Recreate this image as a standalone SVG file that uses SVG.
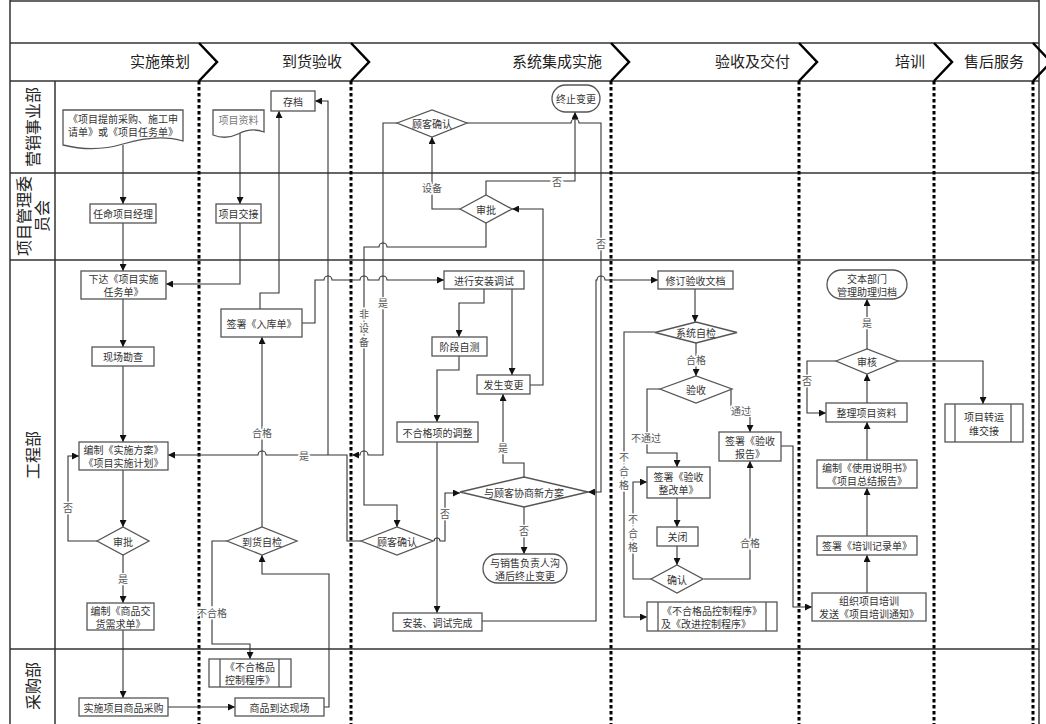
<svg xmlns="http://www.w3.org/2000/svg" width="1046" height="724" viewBox="0 0 1046 724">
<style>
.frame{fill:none;stroke:#333;stroke-width:1.5}
.sep{fill:none;stroke:#000;stroke-width:3;stroke-dasharray:3.5 2.5}
.chev{fill:none;stroke:#000;stroke-width:2.5}
.hd{font-family:"Noto Sans CJK SC",sans-serif;font-size:15px;fill:#222;text-anchor:end}
.ln{font-family:"Noto Sans CJK SC",sans-serif;font-size:16px;fill:#222;text-anchor:middle;dominant-baseline:central}
.box{fill:#fff;stroke:#555;stroke-width:1.3}
.t{font-family:"Noto Sans CJK SC",sans-serif;font-size:10px;fill:#333;text-anchor:middle;dominant-baseline:central}
.g{fill:#777}
.e{fill:none;stroke:#333;stroke-width:1.1}
.lbl{font-family:"Noto Sans CJK SC",sans-serif;font-size:10px;fill:#555;text-anchor:middle;dominant-baseline:central;paint-order:stroke;stroke:#fff;stroke-width:3px}
</style>
<defs>
<marker id="a" viewBox="0 0 10 10" refX="10" refY="5" markerWidth="7" markerHeight="7" orient="auto" markerUnits="userSpaceOnUse"><path d="M0,0 L10,5 L0,10 Z" fill="#111"/></marker>
</defs>
<rect width="1046" height="724" fill="#fff"/>
<g id="frame">
<line class="frame" x1="10" y1="1" x2="1039" y2="1"/>
<line class="frame" x1="10" y1="0" x2="10" y2="724"/>
<line class="frame" x1="1039" y1="0" x2="1039" y2="724"/>
<line class="frame" x1="10" y1="43" x2="1039" y2="43"/>
<line class="frame" x1="10" y1="81" x2="1039" y2="81"/>
<line class="frame" x1="10" y1="173" x2="1039" y2="173"/>
<line class="frame" x1="10" y1="260" x2="1039" y2="260"/>
<line class="frame" x1="10" y1="649" x2="1039" y2="649"/>
<line class="frame" x1="55" y1="81" x2="55" y2="724"/>
</g>
<g id="phases">
<path class="chev" d="M199,43 L217,62 L199,81"/>
<path class="chev" d="M351,43 L369,62 L351,81"/>
<path class="chev" d="M611,43 L629,62 L611,81"/>
<path class="chev" d="M799,43 L817,62 L799,81"/>
<path class="chev" d="M934,43 L952,62 L934,81"/>
<path class="chev" d="M1033,43 L1051,62 L1033,81"/>
<line class="sep" x1="199" y1="81" x2="199" y2="724"/>
<line class="sep" x1="351" y1="81" x2="351" y2="724"/>
<line class="sep" x1="611" y1="81" x2="611" y2="724"/>
<line class="sep" x1="799" y1="81" x2="799" y2="724"/>
<line class="sep" x1="934" y1="81" x2="934" y2="724"/>
<line class="sep" x1="1033" y1="81" x2="1033" y2="724"/>
<text class="hd" x="190" y="67">实施策划</text>
<text class="hd" x="342" y="67">到货验收</text>
<text class="hd" x="602" y="67">系统集成实施</text>
<text class="hd" x="790" y="67">验收及交付</text>
<text class="hd" x="925" y="67">培训</text>
<text class="hd" x="1024" y="67">售后服务</text>
</g>
<g id="lanes">
<text class="ln" transform="translate(32,127) rotate(-90)">营销事业部</text>
<text class="ln" transform="translate(32,216) rotate(-90)"><tspan x="0" y="-9">项目管理委</tspan><tspan x="0" y="9">员会</tspan></text>
<text class="ln" transform="translate(32,455) rotate(-90)">工程部</text>
<text class="ln" transform="translate(32,686) rotate(-90)">采购部</text>
</g>
<g id="connectors">
<path class="e" marker-end="url(#a)" d="M123,145 V204"/>
<path class="e" marker-end="url(#a)" d="M123,223 V271"/>
<path class="e" marker-end="url(#a)" d="M123,299 V347"/>
<path class="e" marker-end="url(#a)" d="M123,366 V442"/>
<path class="e" marker-end="url(#a)" d="M123,470 V527"/>
<path class="e" marker-end="url(#a)" d="M97,541 H68 V456 H79"/>
<path class="e" marker-end="url(#a)" d="M123,555 V603"/>
<path class="e" marker-end="url(#a)" d="M123,630 V698"/>
<path class="e" marker-end="url(#a)" d="M168,707 H235"/>
<path class="e" marker-end="url(#a)" d="M324,707 H329 V574 H262 V555"/>
<path class="e" marker-end="url(#a)" d="M227,541 H212 V644 H250 V659"/>
<path class="e" marker-end="url(#a)" d="M262,527 V337"/>
<path class="e" marker-end="url(#a)" d="M240,133 V204"/>
<path class="e" marker-end="url(#a)" d="M240,223 V284 H166"/>
<path class="e" marker-end="url(#a)" d="M260,309 V293 H279 V111"/>
<path class="e" marker-end="url(#a)" d="M302,323 H315 V280 H324 a4,4 0 0 1 8,0 H360 a4,4 0 0 1 8,0 H379 a4,4 0 0 1 8,0 H444"/>
<path class="e" marker-end="url(#a)" d="M397,123 H383 V455 H368 a4,4 0 0 0 -8,0 H352"/>
<path class="e" marker-end="url(#a)" d="M361,541 H347 V455 H266 a4,4 0 0 0 -8,0 H168"/>
<path class="e" marker-end="url(#a)" d="M328,455 V101 H315"/>
<path class="e" marker-end="url(#a)" d="M460,209 H432 V137"/>
<path class="e" marker-end="url(#a)" d="M486,223 V247 H387 a4,4 0 0 0 -8,0 H364 V505 H397 V527"/>
<path class="e" marker-end="url(#a)" d="M486,195 V181 H575 V112"/>
<path class="e" marker-end="url(#a)" d="M467,123 H571 a4,4 0 0 1 8,0 H601 V492 H588"/>
<path class="e" marker-end="url(#a)" d="M530,385 H543 V209 H512"/>
<path class="e" marker-end="url(#a)" d="M484,289 V303 H459 V337"/>
<path class="e" marker-end="url(#a)" d="M512,289 V375"/>
<path class="e" marker-end="url(#a)" d="M459,356 V370 H437 V422"/>
<path class="e" marker-end="url(#a)" d="M437,442 V613"/>
<path class="e" marker-end="url(#a)" d="M524,478 V463 H503 V394"/>
<path class="e" marker-end="url(#a)" d="M524,507 V554"/>
<path class="e" marker-end="url(#a)" d="M434,541 a3,3 0 0 1 6,0 H445 V493 H460"/>
<path class="e" marker-end="url(#a)" d="M482,621 H596 V280 H597 a4,4 0 0 1 8,0 H658"/>
<path class="e" marker-end="url(#a)" d="M695,289 V322"/>
<path class="e" marker-end="url(#a)" d="M696,343 V376"/>
<path class="e" marker-end="url(#a)" d="M655,332 H624 V617 H647"/>
<path class="e" marker-end="url(#a)" d="M660,389 H647 V453 H677 V467"/>
<path class="e" marker-end="url(#a)" d="M731,389 V411 H750 V432"/>
<path class="e" marker-end="url(#a)" d="M677,498 V527"/>
<path class="e" marker-end="url(#a)" d="M677,546 V565"/>
<path class="e" marker-end="url(#a)" d="M651,579 H633 V482 H647"/>
<path class="e" marker-end="url(#a)" d="M704,579 H750 V461"/>
<path class="e" marker-end="url(#a)" d="M781,446 H793 V607 H812"/>
<path class="e" marker-end="url(#a)" d="M867,593 V555"/>
<path class="e" marker-end="url(#a)" d="M867,536 V488"/>
<path class="e" marker-end="url(#a)" d="M867,460 V422"/>
<path class="e" marker-end="url(#a)" d="M867,403 V374"/>
<path class="e" marker-end="url(#a)" d="M867,353 V299"/>
<path class="e" marker-end="url(#a)" d="M836,361 H807 V413 H826"/>
<path class="e" marker-end="url(#a)" d="M898,361 H983 V404"/>
<text class="lbl" x="68" y="507">否</text>
<text class="lbl" x="123" y="578">是</text>
<text class="lbl" x="212" y="612">不合格</text>
<text class="lbl" x="262" y="432">合格</text>
<text class="lbl" x="383" y="302">是</text>
<text class="lbl" x="304" y="455">是</text>
<text class="lbl" x="364" y="313">非</text>
<text class="lbl" x="364" y="327">设</text>
<text class="lbl" x="364" y="341">备</text>
<text class="lbl" x="432" y="187">设备</text>
<text class="lbl" x="557" y="181">否</text>
<text class="lbl" x="601" y="243">否</text>
<text class="lbl" x="503" y="447">是</text>
<text class="lbl" x="524" y="530">否</text>
<text class="lbl" x="445" y="513">否</text>
<text class="lbl" x="696" y="359">合格</text>
<text class="lbl" x="624" y="456">不</text>
<text class="lbl" x="624" y="470">合</text>
<text class="lbl" x="624" y="484">格</text>
<text class="lbl" x="646" y="437">不通过</text>
<text class="lbl" x="741" y="410">通过</text>
<text class="lbl" x="633" y="518">不</text>
<text class="lbl" x="633" y="532">合</text>
<text class="lbl" x="633" y="546">格</text>
<text class="lbl" x="750" y="542">合格</text>
<text class="lbl" x="867" y="322">是</text>
<text class="lbl" x="807" y="380">否</text>
</g>
<g id="n1"><path class="box" d="M63,110 H183 V141 C163,135 143,138 123,144 C103,150 83,150 63,145 Z"/><text class="t" x="123" y="118">《项目提前采购、施工申</text><text class="t" x="123" y="131">请单》或《项目任务单》</text></g>
<g id="n2"><rect class="box" x="90" y="204" width="66" height="19"/><text class="t" x="123" y="213.5">任命项目经理</text></g>
<g id="n3"><rect class="box" x="81" y="271" width="85" height="28"/><text class="t" x="123.5" y="278">下达《项目实施</text><text class="t" x="123.5" y="291.5">任务单》</text></g>
<g id="n4"><rect class="box" x="92" y="347" width="62" height="19"/><text class="t" x="123" y="356.5">现场勘查</text></g>
<g id="n5"><rect class="box" x="79" y="442" width="89" height="28"/><text class="t" x="123.5" y="449.5">编制《实施方案》</text><text class="t" x="123.5" y="462.5">《项目实施计划》</text></g>
<g id="n6"><path class="box" d="M97,541 L123,527 L149,541 L123,555 Z"/><text class="t" x="123" y="541">审批</text></g>
<g id="n7"><rect class="box" x="87" y="603" width="67" height="27"/><text class="t" x="120.5" y="610">编制《商品交</text><text class="t" x="120.5" y="623">货需求单》</text></g>
<g id="n8"><rect class="box" x="79" y="698" width="89" height="18"/><text class="t" x="123.5" y="707">实施项目商品采购</text></g>
<g id="n9"><path class="box" d="M213,110 H264 V132 C254,128 246,130 238,134 C230,138 221,138 213,135 Z"/><text class="t g" x="238.5" y="119">项目资料</text></g>
<g id="n10"><rect class="box" x="216" y="204" width="45" height="19"/><text class="t" x="238.5" y="213.5">项目交接</text></g>
<g id="n11"><rect class="box" x="271" y="91" width="44" height="20"/><text class="t" x="293" y="101">存档</text></g>
<g id="n12"><rect class="box" x="221" y="309" width="81" height="28"/><text class="t" x="261.5" y="323">签署《入库单》</text></g>
<g id="n13"><path class="box" d="M227,541 L262,527 L297,541 L262,555 Z"/><text class="t" x="262" y="541">到货自检</text></g>
<g id="n14"><rect class="box" x="209" y="659" width="82" height="28"/><line class="box" x1="220" y1="659" x2="220" y2="687"/><line class="box" x1="279" y1="659" x2="279" y2="687"/><text class="t" x="250" y="666.5">《不合格品</text><text class="t" x="250" y="679.5">控制程序》</text></g>
<g id="n15"><rect class="box" x="235" y="698" width="89" height="18"/><text class="t" x="279.5" y="707">商品到达现场</text></g>
<g id="n16"><path class="box" d="M397,123 L432,110 L467,123 L432,137 Z"/><text class="t" x="432" y="123.5">顾客确认</text></g>
<g id="n17"><rect class="box" x="552" y="85" width="48" height="27" rx="13.5"/><text class="t" x="576" y="98.5">终止变更</text></g>
<g id="n18"><path class="box" d="M460,209 L486,195 L512,209 L486,223 Z"/><text class="t" x="486" y="209">审批</text></g>
<g id="n19"><rect class="box" x="444" y="271" width="80" height="18"/><text class="t" x="484" y="280">进行安装调试</text></g>
<g id="n20"><rect class="box" x="432" y="337" width="55" height="19"/><text class="t" x="459.5" y="346.5">阶段自测</text></g>
<g id="n21"><rect class="box" x="477" y="375" width="53" height="19"/><text class="t" x="503.5" y="384.5">发生变更</text></g>
<g id="n22"><rect class="box" x="397" y="422" width="81" height="20"/><text class="t" x="437.5" y="432">不合格项的调整</text></g>
<g id="n23"><path class="box" d="M460,492 L524,477 L588,492 L524,507 Z"/><text class="t" x="524" y="492">与顾客协商新方案</text></g>
<g id="n24"><path class="box" d="M361,541 L397,527 L433,541 L397,555 Z"/><text class="t" x="397" y="541">顾客确认</text></g>
<g id="n25"><rect class="box" x="483" y="554" width="84" height="29" rx="14.5"/><text class="t" x="525" y="562">与销售负责人沟</text><text class="t" x="525" y="575.5">通后终止变更</text></g>
<g id="n26"><rect class="box" x="393" y="613" width="89" height="18"/><text class="t" x="437.5" y="622">安装、调试完成</text></g>
<g id="n27"><rect class="box" x="658" y="271" width="75" height="18"/><text class="t" x="695.5" y="280">修订验收文档</text></g>
<g id="n28"><path class="box" d="M655,332.5 L696,322 L737,332.5 L696,343 Z"/><text class="t" x="696" y="332.5">系统自检</text></g>
<g id="n29"><path class="box" d="M660,389 L696,376 L732,389 L696,403 Z"/><text class="t" x="696" y="389">验收</text></g>
<g id="n30"><rect class="box" x="719" y="432" width="62" height="29"/><text class="t" x="750" y="440">签署《验收</text><text class="t" x="750" y="453">报告》</text></g>
<g id="n31"><rect class="box" x="647" y="467" width="63" height="31"/><text class="t" x="678.5" y="476">签署《验收</text><text class="t" x="678.5" y="489">整改单》</text></g>
<g id="n32"><rect class="box" x="657" y="527" width="41" height="19"/><text class="t" x="677.5" y="536.5">关闭</text></g>
<g id="n33"><path class="box" d="M651,579 L677,565 L703,579 L677,593 Z"/><text class="t" x="677" y="579">确认</text></g>
<g id="n34"><rect class="box" x="647" y="602" width="130" height="29"/><line class="box" x1="658" y1="602" x2="658" y2="631"/><line class="box" x1="766" y1="602" x2="766" y2="631"/><text class="t" x="712" y="610">《不合格品控制程序》</text><text class="t" x="706" y="623">及《改进控制程序》</text></g>
<g id="n35"><rect class="box" x="827" y="270" width="80" height="29" rx="14.5"/><text class="t" x="867" y="278">交本部门</text><text class="t" x="867" y="291">管理助理归档</text></g>
<g id="n36"><path class="box" d="M836,361 L867,349 L898,361 L867,374 Z"/><text class="t" x="867" y="361">审核</text></g>
<g id="n37"><rect class="box" x="826" y="403" width="81" height="19"/><text class="t" x="866.5" y="412.5">整理项目资料</text></g>
<g id="n38"><rect class="box" x="817" y="460" width="100" height="28"/><text class="t" x="867" y="467.5">编制《使用说明书》</text><text class="t" x="867" y="480.5">《项目总结报告》</text></g>
<g id="n39"><rect class="box" x="817" y="536" width="100" height="19"/><text class="t" x="867" y="545.5">签署《培训记录单》</text></g>
<g id="n40"><rect class="box" x="812" y="593" width="114" height="28"/><text class="t" x="869" y="600.5">组织项目培训</text><text class="t" x="869" y="613.5">发送《项目培训通知》</text></g>
<g id="n41"><rect class="box" x="945" y="404" width="78" height="38"/><line class="box" x1="955" y1="404" x2="955" y2="442"/><line class="box" x1="1011" y1="404" x2="1011" y2="442"/><text class="t" x="984" y="416">项目转运</text><text class="t" x="984" y="430">维交接</text></g>
</svg>
